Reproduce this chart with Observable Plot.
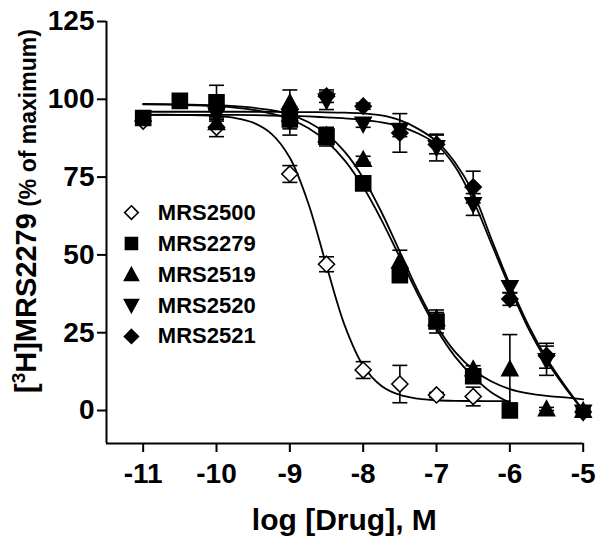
<!DOCTYPE html>
<html><head><meta charset="utf-8">
<script src="https://cdn.jsdelivr.net/npm/d3@7"></script>
<script src="https://cdn.jsdelivr.net/npm/@observablehq/plot@0.6"></script>
<style>body{margin:0;background:#fff}#chart{width:600px;height:543px}</style>
</head><body><div id="chart"></div>
<script>
// ---- data ----
const logDose = [-11, -10.5, -10, -9.5, -9, -8.5, -8, -7.5, -7, -6.5, -6, -5.5, -5];
const MRS2500 = [93, null, 91, null, 76, 47, 13, 8.5, 5, 4.5, null, null, null];
const err2500 = [1, null, 3, null, 2.7, 2.4, 2.7, 6, 0.8, 3, null, null, null];
const MRS2279 = [94, 99.5, 99, null, 93.5, 88, 73, 43.5, 28.6, 11, 0, null, null];
const err2279 = [1.2, 1.5, 5.5, null, 3, 3, 1.2, 2, 3.7, 2, 1, null, null];
const MRS2519 = [null, null, 92.5, null, 99, 88.5, 80.7, 48, 29.5, 13.4, 13.4, 0.5, 0];
const err2519 = [null, null, 2, null, 4, 2, 1, 3.5, 2, 1, 11, 0.5, 0.5];
const MRS2520 = [null, null, 95, null, 94.5, 99.5, 92, 90, 84.5, 66.2, 39.5, 16, -0.5];
const err2520 = [null, null, 2, null, 2, 2.8, 1, 2, 4.3, 3.5, 1.6, 4.7, 0.5];
const MRS2521 = [null, null, null, null, 93, 101, 97.8, 89.2, 85.5, 71.8, 35.8, 17.6, -0.5];
const err2521 = [null, null, null, null, 4.5, 2, 1, 6.2, 3, 5.1, 2, 4, 0.5];

// fitted curves
const curveDose = [-11, -10.5, -10, -9.75, -9.5, -9.25, -9, -8.75, -8.5, -8.25, -8, -7.75, -7.5, -7.25, -7, -6.75, -6.5, -6.25, -6, -5.75, -5.5, -5.25, -5];
const fit2500 = [95.0, 95.0, 94.6, 94.0, 92.5, 88.9, 81.2, 66.7, 46.5, 27.2, 14.4, 7.9, 5.0, 3.8, 3.3, 3.1, 3.05, 3.0, 3.0, null, null, null, null];
const fit2279 = [98.4, 98.2, 97.8, 97.3, 96.6, 95.4, 93.6, 90.8, 86.5, 80.3, 71.8, 61.2, 49.2, 37.1, 26.2, 17.4, 10.9, 5.8, 2.5, null, null, null, null];
const fit2519 = [98.5, 98.4, 98.1, 97.8, 97.3, 96.5, 95.1, 92.7, 88.9, 83.1, 74.7, 63.7, 51.0, 38.3, 27.3, 18.9, 13.1, 9.3, 6.9, 5.5, 4.7, 4.2, 3.6];
const fit2520 = [95.0, 95.0, 95.0, 95.0, 94.9, 94.8, 94.7, 94.5, 94.2, 93.9, 93.4, 92.6, 91.3, 89.0, 85.5, 78.5, 67.5, 53.5, 39.5, 26.5, 16.0, 7.5, 0];
const fit2521 = [96.0, 96.0, 96.0, 96.0, 96.0, 96.0, 95.9, 95.9, 95.8, 95.7, 95.5, 94.8, 93.3, 90.5, 86.5, 79.8, 70.0, 55.0, 40.5, 27.5, 16.8, 8.0, 0];

const seriesNames = ["MRS2500", "MRS2279", "MRS2519", "MRS2520", "MRS2521"];
const xTicks = [-11, -10, -9, -8, -7, -6, -5];
const yTicks = [0, 25, 50, 75, 100, 125];
const xDomain = [-11.5, -5];
const yDomain = [-10.6, 125];
const xTitle = "log [Drug], M";
const yTitleParts = ["[", "3", "H]MRS2279", " (% of maximum)"];

// ---- symbols ----
const rad = s => Math.sqrt(s / Math.PI);
const diamondSym = {draw(c, s) {const r = rad(s); c.moveTo(0, -r); c.lineTo(r, 0); c.lineTo(0, r); c.lineTo(-r, 0); c.closePath();}};
const squareSym = {draw(c, s) {const r = rad(s); c.moveTo(-r, -r); c.lineTo(r, -r); c.lineTo(r, r); c.lineTo(-r, r); c.closePath();}};
const triUp = {draw(c, s) {const r = rad(s); c.moveTo(0, -r); c.lineTo(r, 0.85 * r); c.lineTo(-r, 0.85 * r); c.closePath();}};
const triDown = {draw(c, s) {const r = rad(s); c.moveTo(0, r); c.lineTo(r, -0.85 * r); c.lineTo(-r, -0.85 * r); c.closePath();}};
const capSym = {draw(c, s) {const r = rad(s); c.moveTo(-r, 0); c.lineTo(r, 0);}};

const series = [
  {name: seriesNames[0], y: MRS2500, e: err2500, fit: fit2500},
  {name: seriesNames[1], y: MRS2279, e: err2279, fit: fit2279},
  {name: seriesNames[2], y: MRS2519, e: err2519, fit: fit2519},
  {name: seriesNames[3], y: MRS2520, e: err2520, fit: fit2520},
  {name: seriesNames[4], y: MRS2521, e: err2521, fit: fit2521}
];
const looks = {
  MRS2500: {symbol: diamondSym, fill: "white", r: 8, lr: 6.8},
  MRS2279: {symbol: squareSym, fill: "black", r: 7.5, lr: 6},
  MRS2519: {symbol: triUp, fill: "black", r: 8, lr: 7},
  MRS2520: {symbol: triDown, fill: "black", r: 8, lr: 7},
  MRS2521: {symbol: diamondSym, fill: "black", r: 8, lr: 7}
};
const drawOrder = ["MRS2500", "MRS2519", "MRS2520", "MRS2279", "MRS2521"];

const points = series.flatMap(s => logDose.map((x, i) => ({x, y: s.y[i], e: s.e[i], name: s.name})).filter(d => d.y != null));
const curvePts = series.flatMap(s => curveDose.map((x, i) => ({x, y: s.fit[i], name: s.name})).filter(d => d.y != null));

const font = "Liberation Sans, Arial, Helvetica, sans-serif";
const marks = [
  Plot.ruleX([xDomain[0]], {stroke: "black", strokeWidth: 2}),
  Plot.ruleY([yDomain[0]], {stroke: "black", strokeWidth: 2}),
  Plot.axisX({ticks: xTicks, tickSize: 9, tickPadding: 11, tickFormat: d => String(d), fontSize: 28, fontWeight: "bold", strokeWidth: 2, label: null}),
  Plot.axisY({ticks: yTicks, tickSize: 9, tickPadding: 3, tickFormat: d => String(d), fontSize: 28, fontWeight: "bold", strokeWidth: 2, label: null}),
  Plot.line(curvePts, {x: "x", y: "y", z: "name", stroke: "black", strokeWidth: 1.8, curve: "catmull-rom"}),
  Plot.ruleX(points.filter(d => d.e), {x: "x", y1: d => d.y - d.e, y2: d => d.y + d.e, stroke: "black", strokeWidth: 1.6}),
  Plot.dot(points.filter(d => d.e), {x: "x", y: d => d.y + d.e, symbol: capSym, r: 7.5, stroke: "black", strokeWidth: 1.6, fill: "none"}),
  Plot.dot(points.filter(d => d.e), {x: "x", y: d => d.y - d.e, symbol: capSym, r: 7.5, stroke: "black", strokeWidth: 1.6, fill: "none"})
];
for (const name of drawOrder) {
  const lk = looks[name];
  marks.push(Plot.dot(points.filter(d => d.name === name), {x: "x", y: "y", symbol: lk.symbol, r: lk.r, fill: lk.fill, stroke: "black", strokeWidth: 1.6}));
}
// legend
const legendSymX = -11.16, legendTextX = -10.80, legendTop = 63.6, legendStep = 9.95;
seriesNames.forEach((name, i) => {
  const lk = looks[name];
  marks.push(Plot.dot([name], {x: () => legendSymX, y: () => legendTop - i * legendStep, symbol: lk.symbol, r: lk.lr, fill: lk.fill, stroke: "black", strokeWidth: 1.6}));
  marks.push(Plot.text([name], {x: () => legendTextX, y: () => legendTop - i * legendStep, text: d => d, textAnchor: "start", fontSize: 22, fontWeight: "bold", fill: "black"}));
});

const chart = Plot.plot({
  width: 600, height: 543,
  marginLeft: 106, marginRight: 17.3, marginTop: 21, marginBottom: 100,
  x: {domain: xDomain},
  y: {domain: yDomain},
  style: {fontFamily: font, background: "white", color: "black", overflow: "visible"},
  marks
});
const svg = d3.select(chart);
svg.append("text")
  .attr("x", (106 + 582.7) / 2).attr("y", 530)
  .attr("text-anchor", "middle").attr("font-family", font).attr("font-weight", "bold")
  .attr("font-size", 30).attr("fill", "black").text(xTitle);
const yt = svg.append("text")
  .attr("transform", "translate(36,393) rotate(-90)")
  .attr("text-anchor", "start")
  .attr("font-family", font).attr("font-weight", "bold").attr("font-size", 29).attr("fill", "black");
yt.append("tspan").text(yTitleParts[0]);
yt.append("tspan").attr("font-size", 19).attr("dy", -11).text(yTitleParts[1]);
yt.append("tspan").attr("dy", 11).text(yTitleParts[2]);
yt.append("tspan").attr("font-size", 23).text(yTitleParts[3]);
document.getElementById("chart").appendChild(chart);
</script></body></html>
